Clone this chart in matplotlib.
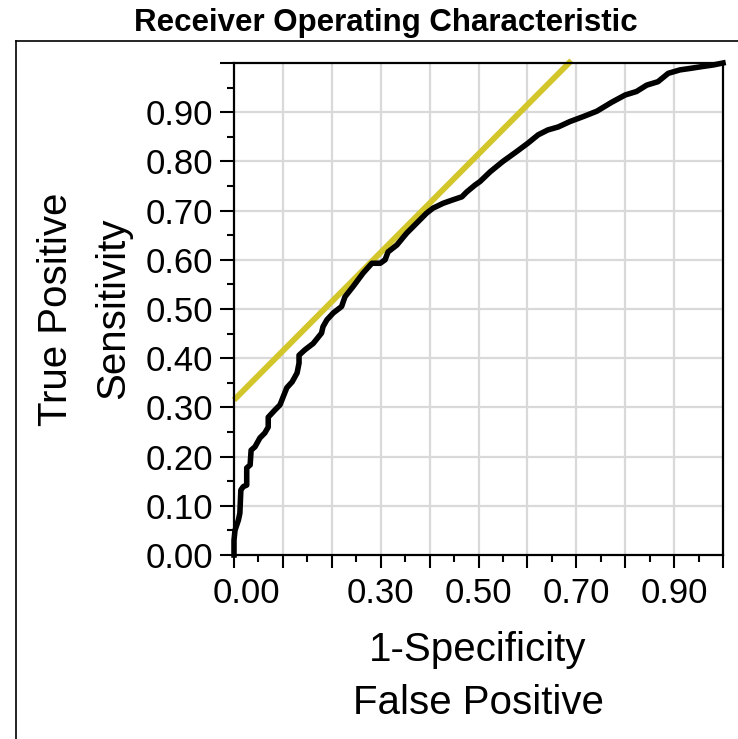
import matplotlib
matplotlib.use("Agg")
import matplotlib.pyplot as plt
import numpy as np
from matplotlib.transforms import ScaledTranslation

plt.rcParams['font.family'] = ['Liberation Sans', 'DejaVu Sans']

# ROC curve
fpr = [0.0, 0.0, 0.002, 0.009, 0.012, 0.014, 0.019, 0.026, 0.026, 0.033,
       0.035, 0.043, 0.053, 0.063, 0.07, 0.07, 0.084, 0.094, 0.1, 0.108,
       0.119, 0.129, 0.133, 0.133, 0.145, 0.162, 0.179, 0.182, 0.19, 0.203,
       0.22, 0.227, 0.243, 0.264, 0.282, 0.299, 0.309, 0.315, 0.333, 0.353,
       0.374, 0.394, 0.407, 0.428, 0.448, 0.466, 0.476, 0.493, 0.503, 0.524,
       0.55, 0.578, 0.601, 0.622, 0.642, 0.663, 0.687, 0.714, 0.742, 0.772,
       0.8, 0.823, 0.844, 0.867, 0.888, 0.912, 0.933, 0.959, 0.98, 1.0]
tpr = [0.0, 0.03, 0.05, 0.071, 0.085, 0.132, 0.139, 0.142, 0.177, 0.183,
       0.213, 0.22, 0.238, 0.248, 0.26, 0.28, 0.295, 0.305, 0.32, 0.34,
       0.352, 0.37, 0.39, 0.406, 0.417, 0.43, 0.451, 0.464, 0.478, 0.492,
       0.505, 0.525, 0.545, 0.573, 0.593, 0.593, 0.6, 0.616, 0.63, 0.654,
       0.675, 0.695, 0.705, 0.715, 0.722, 0.728, 0.738, 0.752, 0.759, 0.779,
       0.8, 0.82, 0.837, 0.854, 0.864, 0.87, 0.881, 0.891, 0.902, 0.92,
       0.935, 0.942, 0.955, 0.962, 0.979, 0.986, 0.989, 0.993, 0.996, 1.0]

# tangent line (yellow)
tangent_x = [0.0, 0.69]
tangent_y = [0.315, 1.005]

major_ticks = [0.0, 0.1, 0.2, 0.3, 0.4, 0.5, 0.6, 0.7, 0.8, 0.9, 1.0]
x_tick_labels = ["0.00", "", "", "0.30", "", "0.50", "", "0.70", "", "0.90", ""]
y_tick_labels = ["0.00", "0.10", "0.20", "0.30", "0.40", "0.50", "0.60",
                 "0.70", "0.80", "0.90", ""]

fig = plt.figure(figsize=(7.38, 7.39), dpi=100)
ax = fig.add_axes([234/738, 1 - 555/739, 489/738, 492/739])

# grid
for g in major_ticks[1:-1]:
    ax.axvline(g, color='#d9d9d9', lw=1.6, zorder=0)
    ax.axhline(g, color='#d9d9d9', lw=1.6, zorder=0)

ax.plot(tangent_x, tangent_y, color='#d2c62b', lw=4.2, solid_capstyle='butt',
        zorder=2, clip_on=False)
ax.plot(fpr, tpr, color='black', lw=4.0, zorder=3, clip_on=False)

ax.set_xlim(0, 1)
ax.set_ylim(0, 1)
ax.set_xticks(major_ticks)
ax.set_xticklabels(x_tick_labels)
ax.set_yticks(major_ticks)
ax.set_yticklabels(y_tick_labels)
ax.set_xticks(np.arange(0.05, 1.0, 0.1), minor=True)
ax.set_yticks(np.arange(0.05, 1.0, 0.1), minor=True)

ax.tick_params(axis='both', which='major', direction='out', width=1.5,
               labelsize=25, color='black')
ax.tick_params(axis='x', which='major', length=9, pad=7)
ax.tick_params(axis='y', which='major', length=10, pad=5)
ax.tick_params(axis='both', which='minor', direction='out', length=5, width=1.5)

for s in ax.spines.values():
    s.set_linewidth(1.6)
    s.set_color('black')

# shift the 0.00 x label a little to the right, as in the picture
lab0 = ax.get_xticklabels()[0]
lab0.set_transform(lab0.get_transform() + ScaledTranslation(0.12, 0, fig.dpi_scale_trans))

# outer frame (open at right / bottom)
fig.add_artist(plt.Line2D([16/738, 16/738], [0, 1 - 41/739], color='black',
                          lw=1.2, transform=fig.transFigure))
fig.add_artist(plt.Line2D([16/738, 1], [1 - 41/739, 1 - 41/739], color='black',
                          lw=1.2, transform=fig.transFigure))

fig.text(386/738, 1 - 23/739, "Receiver Operating Characteristic",
         fontsize=22.5, fontweight='bold', ha='center', va='center')
fig.text(478/738, 1 - 650/739, "1-Specificity", fontsize=29,
         ha='center', va='center')
fig.text(478/738, 1 - 703/739, "False Positive", fontsize=29,
         ha='center', va='center')
fig.text(56/738, 1 - 309/739, "True Positive", fontsize=29, rotation=90,
         ha='center', va='center')
fig.text(113/738, 1 - 308/739, "Sensitivity", fontsize=29, rotation=90,
         ha='center', va='center')

fig.savefig("out.png", dpi=100)
